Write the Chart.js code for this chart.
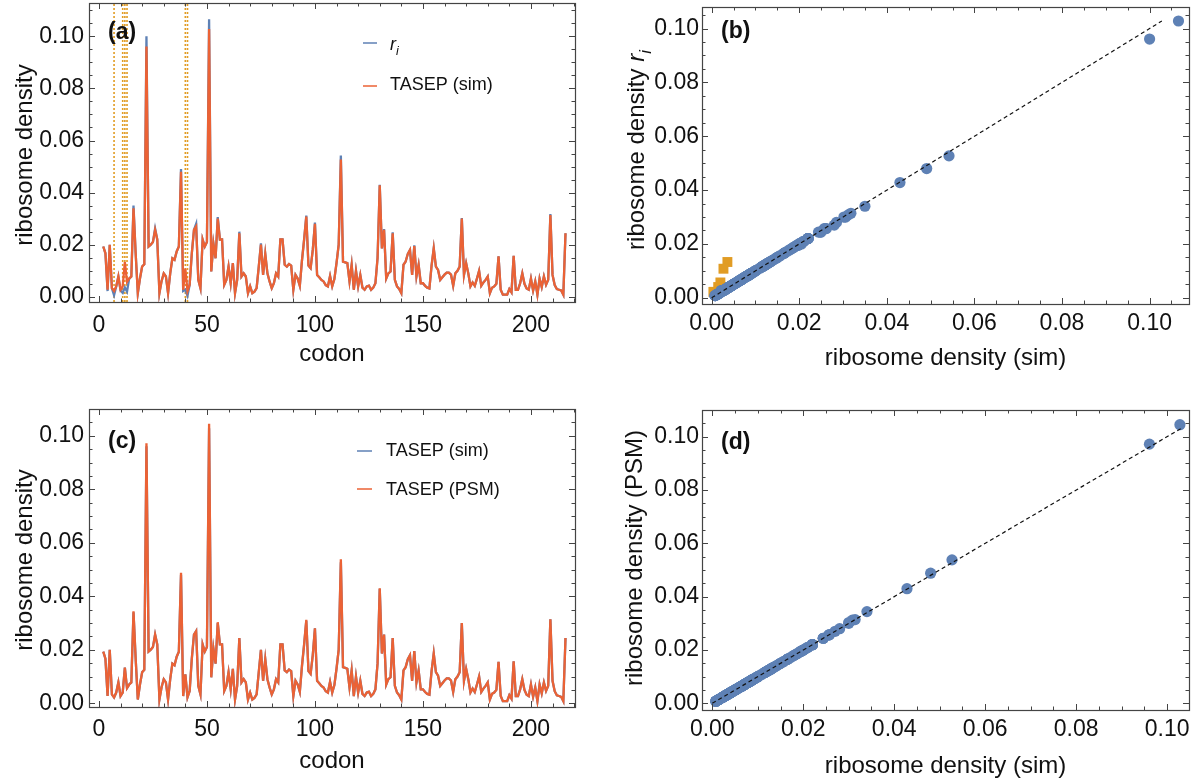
<!DOCTYPE html>
<html>
<head>
<meta charset="utf-8">
<script src="https://cdn.jsdelivr.net/npm/chart.js@4.4.1/dist/chart.umd.min.js"></script>
<style>
html, body { margin: 0; padding: 0; background: #fff; }
#wrap { position: relative; width: 1200px; height: 781px; }
canvas { position: absolute; }
</style>
</head>
<body>
<div id="wrap">
<canvas id="chA" width="600" height="390" style="left:0;top:0"></canvas>
<canvas id="chB" width="600" height="390" style="left:600px;top:0"></canvas>
<canvas id="chC" width="600" height="391" style="left:0;top:390px"></canvas>
<canvas id="chD" width="600" height="391" style="left:600px;top:390px"></canvas>
</div>
<script>
// codon positions along the gene
const codons = [
  2,3,4,5,6,7,8,9,10,11,
  12,13,14,15,16,17,18,19,20,21,
  22,23,24,25,26,27,28,29,30,31,
  32,33,34,35,36,37,38,39,40,41,
  42,43,44,45,46,47,48,49,50,51,
  52,53,54,55,56,57,58,59,60,61,
  62,63,64,65,66,67,68,69,70,71,
  72,73,74,75,76,77,78,79,80,81,
  82,83,84,85,86,87,88,89,90,91,
  92,93,94,95,96,97,98,99,100,101,
  102,103,104,105,106,107,108,109,110,111,
  112,113,114,115,116,117,118,119,120,121,
  122,123,124,125,126,127,128,129,130,131,
  132,133,134,135,136,137,138,139,140,141,
  142,143,144,145,146,147,148,149,150,151,
  152,153,154,155,156,157,158,159,160,161,
  162,163,164,165,166,167,168,169,170,171,
  172,173,174,175,176,177,178,179,180,181,
  182,183,184,185,186,187,188,189,190,191,
  192,193,194,195,196,197,198,199,200,201,
  202,203,204,205,206,207,208,209,210,211,
  212,213,214,215,216
];

// TASEP (sim)
const simDensity = [
  0.0193,0.0167,0.0027,0.0200,0.0033,0.0022,0.0040,0.0078,0.0027,0.0040,
  0.0133,0.0057,0.0070,0.0078,0.0340,0.0167,0.0014,0.0070,0.0116,0.0125,
  0.0961,0.0193,0.0200,0.0210,0.0257,0.0220,0.0014,0.0060,0.0090,0.0078,
  0.0014,0.0090,0.0148,0.0142,0.0174,0.0193,0.0480,0.0027,0.0108,0.0022,
  0.0046,0.0167,0.0257,0.0270,0.0065,0.0033,0.0220,0.0193,0.0210,0.1028,
  0.0097,0.0205,0.0148,0.0300,0.0220,0.0220,0.0046,0.0065,0.0116,0.0052,
  0.0129,0.0014,0.0065,0.0244,0.0078,0.0090,0.0078,0.0014,0.0040,0.0014,
  0.0020,0.0033,0.0116,0.0200,0.0084,0.0165,0.0090,0.0059,0.0033,0.0052,
  0.0090,0.0078,0.0220,0.0220,0.0123,0.0116,0.0126,0.0120,0.0027,0.0084,
  0.0070,0.0042,0.0140,0.0220,0.0308,0.0120,0.0110,0.0180,0.0280,0.0084,
  0.0075,0.0065,0.0059,0.0045,0.0040,0.0080,0.0040,0.0068,0.0130,0.0200,
  0.0527,0.0135,0.0132,0.0129,0.0059,0.0123,0.0027,0.0100,0.0040,0.0084,
  0.0035,0.0027,0.0040,0.0043,0.0027,0.0035,0.0052,0.0150,0.0428,0.0186,
  0.0257,0.0070,0.0090,0.0097,0.0244,0.0065,0.0040,0.0030,0.0014,0.0123,
  0.0135,0.0165,0.0180,0.0084,0.0195,0.0078,0.0123,0.0052,0.0052,0.0042,
  0.0035,0.0032,0.0120,0.0186,0.0116,0.0103,0.0065,0.0075,0.0085,0.0093,
  0.0093,0.0085,0.0042,0.0090,0.0100,0.0116,0.0300,0.0084,0.0129,0.0090,
  0.0040,0.0055,0.0042,0.0070,0.0100,0.0042,0.0055,0.0065,0.0078,0.0014,
  0.0035,0.0040,0.0050,0.0155,0.0027,0.0008,0.0008,0.0008,0.0030,0.0017,
  0.0157,0.0027,0.0027,0.0052,0.0090,0.0050,0.0032,0.0027,0.0070,0.0024,
  0.0059,0.0008,0.0070,0.0037,0.0078,0.0046,0.0065,0.0314,0.0084,0.0045,
  0.0030,0.0027,0.0024,0.0008,0.0244
];

// r_i (measured)
const riDensity = [
  0.0193,0.0167,0.0022,0.0200,0.0033,0.0006,0.0040,0.0078,0.0024,0.0015,
  0.0036,0.0020,0.0070,0.0078,0.0350,0.0167,0.0014,0.0070,0.0116,0.0125,
  0.1000,0.0193,0.0200,0.0210,0.0262,0.0220,0.0014,0.0060,0.0090,0.0078,
  0.0014,0.0090,0.0148,0.0142,0.0174,0.0193,0.0491,0.0022,0.0027,0.0004,
  0.0046,0.0167,0.0257,0.0280,0.0065,0.0033,0.0220,0.0193,0.0210,0.1066,
  0.0097,0.0205,0.0148,0.0306,0.0220,0.0220,0.0046,0.0065,0.0116,0.0052,
  0.0129,0.0014,0.0065,0.0250,0.0078,0.0090,0.0078,0.0014,0.0040,0.0014,
  0.0020,0.0033,0.0116,0.0205,0.0084,0.0165,0.0090,0.0059,0.0033,0.0052,
  0.0090,0.0078,0.0220,0.0220,0.0123,0.0116,0.0126,0.0120,0.0027,0.0084,
  0.0070,0.0042,0.0140,0.0220,0.0312,0.0120,0.0110,0.0180,0.0285,0.0084,
  0.0075,0.0065,0.0059,0.0045,0.0040,0.0080,0.0040,0.0068,0.0130,0.0200,
  0.0542,0.0135,0.0132,0.0129,0.0059,0.0123,0.0027,0.0100,0.0040,0.0084,
  0.0035,0.0027,0.0040,0.0043,0.0027,0.0035,0.0052,0.0150,0.0430,0.0186,
  0.0260,0.0070,0.0090,0.0097,0.0248,0.0065,0.0040,0.0030,0.0014,0.0123,
  0.0135,0.0165,0.0180,0.0084,0.0198,0.0078,0.0123,0.0052,0.0052,0.0042,
  0.0035,0.0032,0.0120,0.0186,0.0116,0.0103,0.0065,0.0075,0.0085,0.0093,
  0.0093,0.0085,0.0042,0.0090,0.0100,0.0116,0.0302,0.0084,0.0129,0.0090,
  0.0040,0.0055,0.0042,0.0070,0.0100,0.0042,0.0055,0.0065,0.0078,0.0014,
  0.0035,0.0040,0.0050,0.0155,0.0027,0.0008,0.0008,0.0008,0.0030,0.0017,
  0.0157,0.0027,0.0027,0.0052,0.0090,0.0050,0.0032,0.0027,0.0070,0.0024,
  0.0059,0.0008,0.0070,0.0037,0.0078,0.0046,0.0065,0.0318,0.0084,0.0045,
  0.0030,0.0027,0.0024,0.0008,0.0244
];

// TASEP (PSM)
const psmDensity = [
  0.0193,0.0167,0.0027,0.0200,0.0033,0.0022,0.0040,0.0078,0.0027,0.0040,
  0.0133,0.0057,0.0070,0.0078,0.0344,0.0167,0.0014,0.0070,0.0116,0.0125,
  0.0972,0.0193,0.0200,0.0210,0.0257,0.0220,0.0014,0.0060,0.0090,0.0078,
  0.0014,0.0090,0.0148,0.0142,0.0174,0.0193,0.0488,0.0027,0.0108,0.0022,
  0.0046,0.0167,0.0257,0.0270,0.0065,0.0033,0.0220,0.0193,0.0210,0.1045,
  0.0097,0.0205,0.0148,0.0303,0.0220,0.0220,0.0046,0.0065,0.0116,0.0052,
  0.0129,0.0014,0.0065,0.0244,0.0078,0.0090,0.0078,0.0014,0.0040,0.0014,
  0.0020,0.0033,0.0116,0.0200,0.0084,0.0165,0.0090,0.0059,0.0033,0.0052,
  0.0090,0.0078,0.0220,0.0220,0.0123,0.0116,0.0126,0.0120,0.0027,0.0084,
  0.0070,0.0042,0.0140,0.0220,0.0312,0.0120,0.0110,0.0180,0.0280,0.0084,
  0.0075,0.0065,0.0059,0.0045,0.0040,0.0080,0.0040,0.0068,0.0130,0.0200,
  0.0538,0.0135,0.0132,0.0129,0.0059,0.0123,0.0027,0.0100,0.0040,0.0084,
  0.0035,0.0027,0.0040,0.0043,0.0027,0.0035,0.0052,0.0150,0.0430,0.0186,
  0.0257,0.0070,0.0090,0.0097,0.0244,0.0065,0.0040,0.0030,0.0014,0.0123,
  0.0135,0.0165,0.0180,0.0084,0.0195,0.0078,0.0123,0.0052,0.0052,0.0042,
  0.0035,0.0032,0.0120,0.0186,0.0116,0.0103,0.0065,0.0075,0.0085,0.0093,
  0.0093,0.0085,0.0042,0.0090,0.0100,0.0116,0.0300,0.0084,0.0129,0.0090,
  0.0040,0.0055,0.0042,0.0070,0.0100,0.0042,0.0055,0.0065,0.0078,0.0014,
  0.0035,0.0040,0.0050,0.0155,0.0027,0.0008,0.0008,0.0008,0.0030,0.0017,
  0.0157,0.0027,0.0027,0.0052,0.0090,0.0050,0.0032,0.0027,0.0070,0.0024,
  0.0059,0.0008,0.0070,0.0037,0.0078,0.0046,0.0065,0.0314,0.0084,0.0045,
  0.0030,0.0027,0.0024,0.0008,0.0244
];

// codons marked with dotted lines in (a) and squares in (b)
const highlightCodons = [7, 11, 12, 13, 40, 41];

const codonTicks = [0, 50, 100, 150, 200];
const densityTicks = [0, 0.02, 0.04, 0.06, 0.08, 0.10];
const diagonalB = [0, 0.1028];
const diagonalD = [0, 0.1032];

const BLUE = '#5E81B5', RED = '#EB6235', GOLD = '#E19C24';
const FONT = "'Liberation Sans', Arial, Helvetica, sans-serif";

function toPoints(xs, ys) { return xs.map((x, i) => ({x: x, y: ys[i]})); }

// draws runs of text: {t, it, sub}
function drawRuns(ctx, runs, x, y, size, align) {
  const fontOf = r => (r.it ? 'italic ' : '') + (r.sub ? size * 0.7 : size) + 'px ' + FONT;
  let total = 0;
  runs.forEach(r => { ctx.font = fontOf(r); total += ctx.measureText(r.t).width; });
  let cx = align === 'center' ? x - total / 2 : x;
  ctx.textAlign = 'left';
  ctx.textBaseline = 'alphabetic';
  const base = y + size * 0.35;
  runs.forEach(r => {
    ctx.font = fontOf(r);
    ctx.fillText(r.t, cx, base + (r.sub ? size * 0.28 : 0));
    cx += ctx.measureText(r.t).width;
  });
}

const framePlugin = {
  id: 'frame',
  afterDatasetsDraw(chart, args, o) {
    const ctx = chart.ctx, a = chart.chartArea;
    const xs = chart.scales.x, ys = chart.scales.y;
    ctx.save();
    ctx.strokeStyle = '#444';
    ctx.lineWidth = 1.2;
    ctx.strokeRect(Math.round(a.left) + 0.5, Math.round(a.top) + 0.5,
      Math.round(a.right - a.left), Math.round(a.bottom - a.top));
    ctx.lineWidth = 1;
    ctx.beginPath();
    const n = Math.round(o.xMajor / o.xMinor);
    for (let k = Math.ceil(xs.min / o.xMinor); k * o.xMinor <= xs.max; k++) {
      const p = Math.round(xs.getPixelForValue(k * o.xMinor)) + 0.5;
      const len = k % n === 0 ? 6 : 3.5;
      ctx.moveTo(p, a.bottom); ctx.lineTo(p, a.bottom - len);
      ctx.moveTo(p, a.top); ctx.lineTo(p, a.top + len);
    }
    const m = Math.round(o.yMajor / o.yMinor);
    for (let k = Math.ceil(ys.min / o.yMinor - 1e-9); k * o.yMinor <= ys.max + 1e-12; k++) {
      const p = Math.round(ys.getPixelForValue(k * o.yMinor)) + 0.5;
      const len = k % m === 0 ? 6 : 3.5;
      ctx.moveTo(a.left, p); ctx.lineTo(a.left + len, p);
      ctx.moveTo(a.right, p); ctx.lineTo(a.right - len, p);
    }
    ctx.stroke();

    ctx.fillStyle = '#111';
    drawRuns(ctx, [{t: o.xTitle}], (a.left + a.right) / 2, o.xTitleY, 24, 'center');
    ctx.save();
    ctx.translate(o.yTitleX, o.yTitleY);
    ctx.rotate(-Math.PI / 2);
    drawRuns(ctx, o.yTitle, 0, 0, 24, 'center');
    ctx.restore();

    ctx.font = 'bold 23px ' + FONT;
    ctx.textBaseline = 'middle';
    ctx.textAlign = 'left';
    ctx.fillText(o.label[0], o.label[1], o.label[2]);

    if (o.legend) {
      o.legend.items.forEach(it => {
        ctx.strokeStyle = it.color;
        ctx.lineWidth = 1.5;
        ctx.beginPath();
        ctx.moveTo(o.legend.x1, it.ly); ctx.lineTo(o.legend.x2, it.ly);
        ctx.stroke();
        ctx.fillStyle = '#111';
        drawRuns(ctx, it.runs, o.legend.tx, it.ty, 18, 'left');
      });
    }
    ctx.restore();
  }
};

function makeScales(o) {
  return {
    x: {
      type: 'linear', min: o.xMin, max: o.xMax,
      afterBuildTicks: s => { s.ticks = o.xTicks.map(v => ({value: v})); },
      afterFit: s => { s.height = o.xHeight; s.paddingLeft = 0; s.paddingRight = 0; },
      grid: {display: false, drawTicks: false},
      border: {display: false},
      ticks: {font: {family: FONT, size: 23}, color: '#111', padding: o.xPad,
        maxRotation: 0, autoSkip: false, callback: o.xFmt}
    },
    y: {
      type: 'linear', min: o.yMin, max: o.yMax,
      afterBuildTicks: s => { s.ticks = o.yTicks.map(v => ({value: v})); },
      afterFit: s => { s.width = o.yWidth; s.paddingTop = 0; s.paddingBottom = 0; },
      grid: {display: false, drawTicks: false},
      border: {display: false},
      ticks: {font: {family: FONT, size: 23}, color: '#111', padding: o.yPad,
        autoSkip: false, callback: v => v.toFixed(2)}
    }
  };
}

function baseOptions(pad, scales, frame) {
  return {
    responsive: false,
    animation: false,
    devicePixelRatio: 1,
    layout: {padding: {left: 0, top: pad.top, right: pad.right, bottom: 0}},
    plugins: {legend: {display: false}, tooltip: {enabled: false}, frame: frame},
    scales: scales
  };
}

function lineSet(data, color, width) {
  return {data: data, showLine: true, borderColor: color, borderWidth: width,
    pointRadius: 0, tension: 0, fill: false};
}

// (a) r_i and TASEP (sim) along the gene
const aY = [-0.0020, 0.1128];
const markerSets = highlightCodons.map(c => ({
  data: [{x: c, y: aY[0]}, {x: c, y: aY[1]}], showLine: true,
  borderColor: GOLD, borderWidth: 1.6, borderDash: [2, 2], pointRadius: 0
}));
new Chart(document.getElementById('chA'), {
  type: 'scatter',
  data: {datasets: [
    lineSet(toPoints(codons, simDensity), RED, 2.3),
    lineSet(toPoints(codons, riDensity), BLUE, 2.3)
  ].concat(markerSets)},
  options: baseOptions({top: 3, right: 25},
    makeScales({xMin: -4.6, xMax: 220.4, yMin: aY[0], yMax: aY[1],
      xTicks: codonTicks, yTicks: densityTicks, xHeight: 88, yWidth: 89,
      xPad: 10, yPad: 5, xFmt: v => String(v)}),
    {xMajor: 50, xMinor: 10, yMajor: 0.02, yMinor: 0.005,
      xTitle: 'codon', xTitleY: 353, yTitle: [{t: 'ribosome density'}], yTitleX: 24, yTitleY: 155,
      label: ['(a)', 108, 33],
      legend: {x1: 363, x2: 377, tx: 390, items: [
        {color: BLUE, ly: 43, ty: 44, runs: [{t: 'r', it: true}, {t: 'i', it: true, sub: true}]},
        {color: RED, ly: 86, ty: 84, runs: [{t: 'TASEP (sim)'}]}
      ]}}),
  plugins: [framePlugin]
});

// (b) r_i against TASEP (sim)
const bluePtsB = [], squarePtsB = [];
codons.forEach((c, i) => {
  const p = {x: riDensity[i], y: simDensity[i]};
  (highlightCodons.includes(c) ? squarePtsB : bluePtsB).push(p);
});
new Chart(document.getElementById('chB'), {
  type: 'scatter',
  data: {datasets: [
    {data: [{x: diagonalB[0], y: diagonalB[0]}, {x: diagonalB[1], y: diagonalB[1]}], showLine: true,
      borderColor: '#111', borderWidth: 1.2, borderDash: [4, 3], pointRadius: 0},
    {data: bluePtsB, pointRadius: 5.6, pointBackgroundColor: BLUE, pointBorderWidth: 0},
    {data: squarePtsB, pointStyle: 'rect', pointRadius: 7, pointBackgroundColor: GOLD, pointBorderWidth: 0}
  ]},
  options: baseOptions({top: 4, right: 11},
    makeScales({xMin: -0.0022, xMax: 0.109, yMin: -0.0023, yMax: 0.108,
      xTicks: densityTicks, yTicks: densityTicks, xHeight: 86, yWidth: 102,
      xPad: 6, yPad: 3, xFmt: v => v.toFixed(2)}),
    {xMajor: 0.02, xMinor: 0.005, yMajor: 0.02, yMinor: 0.005,
      xTitle: 'ribosome density (sim)', xTitleY: 357,
      yTitle: [{t: 'ribosome density '}, {t: 'r', it: true}, {t: 'i', it: true, sub: true}],
      yTitleX: 36, yTitleY: 150,
      label: ['(b)', 121, 32]}),
  plugins: [framePlugin]
});

// (c) TASEP (sim) and TASEP (PSM) along the gene
new Chart(document.getElementById('chC'), {
  type: 'scatter',
  data: {datasets: [
    lineSet(toPoints(codons, psmDensity), RED, 2.3),
    lineSet(toPoints(codons, simDensity), BLUE, 2.3)
  ]},
  options: baseOptions({top: 19, right: 25},
    makeScales({xMin: -4.6, xMax: 220.4, yMin: -0.0014, yMax: 0.1100,
      xTicks: codonTicks, yTicks: densityTicks, xHeight: 74, yWidth: 89,
      xPad: 9, yPad: 5, xFmt: v => String(v)}),
    {xMajor: 50, xMinor: 10, yMajor: 0.02, yMinor: 0.005,
      xTitle: 'codon', xTitleY: 370, yTitle: [{t: 'ribosome density'}], yTitleX: 24, yTitleY: 170,
      label: ['(c)', 108, 52],
      legend: {x1: 357, x2: 372, tx: 386, items: [
        {color: BLUE, ly: 61, ty: 60, runs: [{t: 'TASEP (sim)'}]},
        {color: RED, ly: 99, ty: 99, runs: [{t: 'TASEP (PSM)'}]}
      ]}}),
  plugins: [framePlugin]
});

// (d) TASEP (PSM) against TASEP (sim)
new Chart(document.getElementById('chD'), {
  type: 'scatter',
  data: {datasets: [
    {data: [{x: diagonalD[0], y: diagonalD[0]}, {x: diagonalD[1], y: diagonalD[1]}], showLine: true,
      borderColor: '#111', borderWidth: 1.2, borderDash: [4, 3], pointRadius: 0},
    {data: toPoints(simDensity, psmDensity), pointRadius: 5.6, pointBackgroundColor: BLUE, pointBorderWidth: 0}
  ]},
  options: baseOptions({top: 20, right: 11},
    makeScales({xMin: -0.00226, xMax: 0.1048, yMin: -0.0025, yMax: 0.110,
      xTicks: densityTicks, yTicks: densityTicks, xHeight: 71, yWidth: 102,
      xPad: 6, yPad: 3, xFmt: v => v.toFixed(2)}),
    {xMajor: 0.02, xMinor: 0.005, yMajor: 0.02, yMinor: 0.005,
      xTitle: 'ribosome density (sim)', xTitleY: 375,
      yTitle: [{t: 'ribosome density (PSM)'}], yTitleX: 34, yTitleY: 168,
      label: ['(d)', 121, 53]}),
  plugins: [framePlugin]
});
</script>
</body>
</html>
